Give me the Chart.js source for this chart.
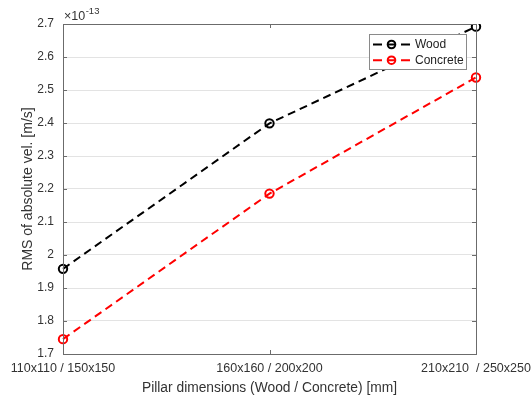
<!DOCTYPE html>
<html><head><meta charset="utf-8">
<script src="https://cdn.jsdelivr.net/npm/chart.js@4/dist/chart.umd.min.js"></script>
<style>html,body{margin:0;padding:0;background:#fff}#wrap{width:532px;height:399px}</style>
</head><body><div id="wrap"><canvas id="c" width="532" height="399"></canvas></div>
<script>
const categories = ['110x110 / 150x150', '160x160 / 200x200', '210x210  / 250x250'];
const woodValues = [1.958, 2.399, 2.692];
const concreteValues = [1.745, 2.186, 2.538];
const seriesNames = ['Wood', 'Concrete'];
const yTicks = [1.7, 1.8, 1.9, 2.0, 2.1, 2.2, 2.3, 2.4, 2.5, 2.6, 2.7];
const yExponentLabel = ['×10', '-13'];
const xTitle = 'Pillar dimensions (Wood / Concrete) [mm]';
const yTitle = 'RMS of absolute vel. [m/s]';

const FONT = 'Liberation Sans, Arial, Helvetica, sans-serif';

const decor = {
  id: 'decor',
  afterDraw(chart) {
    const ctx = chart.ctx, a = chart.chartArea;
    const ys = chart.scales.y, xs = chart.scales.x;
    ctx.save();
    ctx.strokeStyle = '#6b6b6b'; ctx.lineWidth = 1;
    ctx.strokeRect(Math.round(a.left)+0.5, Math.round(a.top)+0.5, Math.round(a.right-a.left), Math.round(a.bottom-a.top));
    ctx.beginPath();
    yTicks.forEach(v => {
      const py = Math.round(ys.getPixelForValue(v)) + 0.5;
      ctx.moveTo(a.left, py); ctx.lineTo(a.left + 4, py);
      ctx.moveTo(a.right, py); ctx.lineTo(a.right - 4, py);
    });
    categories.forEach((c, i) => {
      const px = Math.round(xs.getPixelForValue(i)) + 0.5;
      ctx.moveTo(px, a.bottom); ctx.lineTo(px, a.bottom - 4);
      ctx.moveTo(px, a.top); ctx.lineTo(px, a.top + 4);
    });
    ctx.stroke();
    ctx.fillStyle = '#333';
    ctx.textBaseline = 'alphabetic';
    ctx.font = '12.5px ' + FONT;
    ctx.fillText(yExponentLabel[0], a.left + 1, a.top - 4);
    const w = ctx.measureText(yExponentLabel[0]).width;
    ctx.font = '9.5px ' + FONT;
    ctx.fillText(yExponentLabel[1], a.left + 1.5 + w, a.top - 10);
    // legend
    const lx = 369, ly = 34, lw = 97, lh = 35;
    ctx.fillStyle = '#fff';
    ctx.fillRect(lx, ly, lw, lh);
    ctx.strokeStyle = '#8a8a8a'; ctx.lineWidth = 1;
    ctx.strokeRect(lx + 0.5, ly + 0.5, lw, lh);
    chart.data.datasets.forEach((ds, i) => {
      const yy = ly + 10.5 + i * 15.7;
      ctx.strokeStyle = ds.borderColor; ctx.lineWidth = 2;
      ctx.setLineDash([9, 5]);
      ctx.beginPath(); ctx.moveTo(373, yy); ctx.lineTo(410, yy); ctx.stroke();
      ctx.setLineDash([]);
      ctx.beginPath(); ctx.arc(391.5, yy, 3.8, 0, Math.PI * 2); ctx.stroke();
      ctx.fillStyle = '#222';
      ctx.font = '12px ' + FONT; ctx.textBaseline = 'middle';
      ctx.fillText(ds.label, 415, yy + 0.5);
    });
    ctx.restore();
  }
};

new Chart(document.getElementById('c'), {
  type: 'line',
  data: {
    labels: categories,
    datasets: [
      { label: seriesNames[0], data: woodValues, borderColor: '#000', borderWidth: 2, borderDash: [8, 5],
        pointRadius: 4.2, pointBorderWidth: 2, pointBackgroundColor: 'rgba(0,0,0,0)', pointBorderColor: '#000', fill: false, tension: 0 },
      { label: seriesNames[1], data: concreteValues, borderColor: '#ff0000', borderWidth: 2, borderDash: [8, 5],
        pointRadius: 4.2, pointBorderWidth: 2, pointBackgroundColor: 'rgba(0,0,0,0)', pointBorderColor: '#ff0000', fill: false, tension: 0 }
    ]
  },
  options: {
    responsive: false, animation: false, devicePixelRatio: 1,
    layout: { padding: { top: 24, right: 56, bottom: 0, left: 0 } },
    plugins: { legend: { display: false }, tooltip: { enabled: false } },
    scales: {
      x: {
        offset: false,
        grid: { display: false, drawTicks: false },
        border: { display: false },
        ticks: { color: '#333', font: { family: FONT, size: 12.5 }, padding: 7, maxRotation: 0, autoSkip: false },
        title: { display: true, text: xTitle, color: '#333', font: { family: FONT, size: 13.8 }, padding: { top: 2, bottom: 3 } },
        afterFit(s) { s.height = 45; s.paddingLeft = 0; s.paddingRight = 0; }
      },
      y: {
        min: 1.7, max: 2.7,
        afterBuildTicks(s) { s.ticks = yTicks.map(v => ({ value: v })); },
        grid: { color: '#e3e3e3', drawTicks: false, lineWidth: 1 },
        border: { display: false },
        ticks: { color: '#333', font: { family: FONT, size: 12 }, padding: 9,
          callback: v => (Math.round(v * 10) / 10).toString() },
        title: { display: true, text: yTitle, color: '#333', font: { family: FONT, size: 14 }, padding: { top: 20, bottom: 0 } },
        afterFit(s) { s.width = 63; }
      }
    }
  },
  plugins: [decor]
});
</script></body></html>
